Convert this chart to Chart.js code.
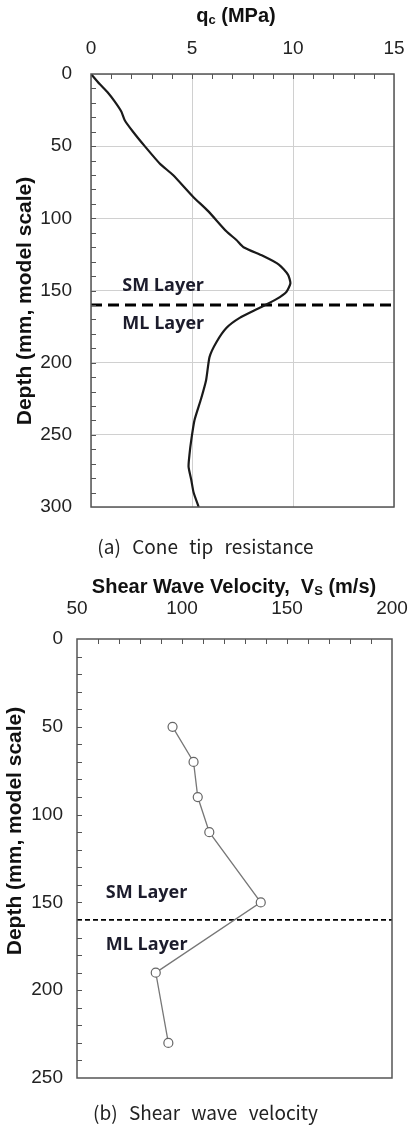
<!DOCTYPE html>
<html lang="en">
<head>
<meta charset="UTF-8">
<title>Cone tip resistance and shear wave velocity</title>
<script src="https://cdn.jsdelivr.net/npm/chart.js@4.4.7/dist/chart.umd.min.js"></script>
<style>
  * { margin: 0; padding: 0; box-sizing: border-box; }
  body { width: 411px; height: 1126px; background: #fff; position: relative; overflow: hidden; }
  .box { position: absolute; left: 0; width: 411px; }
  #boxA { top: 0; height: 530px; }
  #boxB { top: 530px; height: 570px; }
  .cap {
    position: absolute; left: 0; width: 411px; text-align: center;
    font-family: 'Noto Sans CJK KR', sans-serif; font-size: 19px; color: #222;
    word-spacing: 7px; line-height: 20px;
  }
</style>
</head>
<body>
<div class="box" id="boxA"><canvas id="qcChart" width="411" height="530"></canvas></div>
<div class="box" id="boxB"><canvas id="vsChart" width="411" height="570"></canvas></div>
<div class="cap" style="top:536px">(a) Cone tip resistance</div>
<div class="cap" style="top:1102px">(b) Shear wave velocity</div>

<script>
  // (a) コーン貫入抵抗
  const qcDepth  = [0, 7, 13, 19, 26, 32, 40, 50, 62, 70, 85, 95, 109, 115, 120, 126, 132, 139, 145, 151,
                    156, 162, 169, 176, 186, 196, 212, 225, 240, 254, 263, 272, 281, 290, 300];
  const qcValues = [0.0, 0.43, 0.84, 1.17, 1.5, 1.67, 2.08, 2.66, 3.4, 4.06, 5.05, 5.8, 6.7, 7.2, 7.55, 8.5, 9.3, 9.75, 9.87, 9.67,
                    9.18, 8.35, 7.36, 6.7, 6.2, 5.87, 5.7, 5.45, 5.12, 4.96, 4.88, 4.83, 4.96, 5.08, 5.33];

  // (b) せん断波速度
  const vsDepth  = [50, 70, 90, 110, 150, 190, 230];
  const vsValues = [95.5, 105.5, 107.5, 113, 137.5, 87.5, 93.5];

  const layerBoundary = 160;
  const layerLabels = ["SM Layer", "ML Layer"];

  const tickFont = { family: "'Liberation Sans', Arial, sans-serif", size: 19 };
  const boldFont = "bold 20px 'Liberation Sans', Arial, sans-serif";

  // 軸ラベルの余白計算を無効化して描画領域を固定する
  function fixBox(prop, size) {
    return s => {
      s[prop] = size;
      s.paddingLeft = s.paddingRight = s.paddingTop = s.paddingBottom = 0;
    };
  }

  // タイトル（下付き文字対応）を描く
  function drawParts(ctx, parts, cx, cy, rotate) {
    ctx.save();
    ctx.translate(cx, cy);
    if (rotate) ctx.rotate(-Math.PI / 2);
    let total = 0;
    parts.forEach(p => { ctx.font = p.font; total += ctx.measureText(p.t).width; });
    let x = -total / 2;
    ctx.textBaseline = 'middle';
    ctx.fillStyle = '#111';
    parts.forEach(p => {
      ctx.font = p.font;
      ctx.textAlign = 'left';
      ctx.fillText(p.t, x, p.dy || 0);
      x += ctx.measureText(p.t).width;
    });
    ctx.restore();
  }

  const framePlugin = {
    id: 'frame',
    afterDraw(chart, args, o) {
      const { ctx, chartArea: a } = chart;
      const xs = chart.scales.x, ys = chart.scales.y;
      ctx.save();
      // 内向きの副目盛
      ctx.strokeStyle = '#555';
      ctx.lineWidth = 1;
      ctx.beginPath();
      const nx = Math.round((xs.max - xs.min) / o.xMinor);
      for (let i = 1; i < nx; i++) {
        const px = Math.round(xs.getPixelForValue(xs.min + i * o.xMinor)) + 0.5;
        ctx.moveTo(px, a.top); ctx.lineTo(px, a.top + 5);
      }
      const ny = Math.round((ys.max - ys.min) / o.yMinor);
      for (let i = 1; i < ny; i++) {
        const py = Math.round(ys.getPixelForValue(ys.min + i * o.yMinor)) + 0.5;
        ctx.moveTo(a.left, py); ctx.lineTo(a.left + 5, py);
      }
      ctx.stroke();
      // 枠
      ctx.lineWidth = 1.5;
      ctx.strokeStyle = '#555';
      ctx.strokeRect(a.left, a.top, a.right - a.left, a.bottom - a.top);
      // 層ラベル
      ctx.font = "bold 18px 'Open Sans', sans-serif";
      ctx.fillStyle = '#1c1c2c';
      ctx.textAlign = 'left';
      ctx.textBaseline = 'middle';
      o.labels.forEach(l => {
        ctx.fillText(l.text, xs.getPixelForValue(l.x), ys.getPixelForValue(l.y));
      });
      ctx.restore();
      drawParts(ctx, o.xTitle, o.xTitlePos[0], o.xTitlePos[1], false);
      drawParts(ctx, o.yTitle, o.yTitlePos[0], o.yTitlePos[1], true);
    }
  };

  const yTitleParts = [{ t: 'Depth (mm, model scale)', font: "bold 21px 'Liberation Sans', Arial, sans-serif" }];

  // ---- (a) qc ----
  new Chart(document.getElementById('qcChart'), {
    type: 'scatter',
    data: {
      datasets: [
        {
          data: qcDepth.map((d, i) => ({ x: qcValues[i], y: d })),
          showLine: true,
          borderColor: '#1a1a1a',
          borderWidth: 2.2,
          pointRadius: 0,
          tension: 0.2,
        },
        {
          data: [{ x: 0, y: layerBoundary }, { x: 15, y: layerBoundary }],
          showLine: true,
          borderColor: '#000',
          borderWidth: 3,
          borderDash: [11, 6],
          pointRadius: 0,
        },
      ]
    },
    options: {
      responsive: false,
      animation: false,
      layout: { padding: { top: 0, left: 0, right: 17, bottom: 23 } },
      plugins: {
        legend: { display: false },
        tooltip: { enabled: false },
        frame: {
          xMinor: 1, yMinor: 10,
          labels: [
            { text: layerLabels[0], x: 1.55, y: 147 },
            { text: layerLabels[1], x: 1.55, y: 173 },
          ],
          xTitle: [
            { t: 'q', font: boldFont },
            { t: 'c', font: "bold 13px 'Liberation Sans', Arial, sans-serif", dy: 4 },
            { t: ' (MPa)', font: boldFont },
          ],
          xTitlePos: [236, 16],
          yTitle: yTitleParts,
          yTitlePos: [25, 301],
        }
      },
      scales: {
        x: {
          type: 'linear', position: 'top', min: 0, max: 15,
          afterFit: fixBox('height', 74),
          ticks: { stepSize: 5, font: tickFont, color: '#222', padding: 14 },
          grid: { color: '#d0d0d0', drawTicks: false },
          border: { display: false },
        },
        y: {
          type: 'linear', reverse: true, min: 0, max: 300,
          afterFit: fixBox('width', 91),
          ticks: { stepSize: 50, font: tickFont, color: '#222', padding: 19 },
          grid: { color: '#d0d0d0', drawTicks: false },
          border: { display: false },
        }
      }
    },
    plugins: [framePlugin]
  });

  // ---- (b) Vs ----
  new Chart(document.getElementById('vsChart'), {
    type: 'scatter',
    data: {
      datasets: [
        {
          data: vsDepth.map((d, i) => ({ x: vsValues[i], y: d })),
          showLine: true,
          borderColor: '#777',
          borderWidth: 1.3,
          pointRadius: 4.5,
          pointBackgroundColor: '#fff',
          pointBorderColor: '#666',
          pointBorderWidth: 1.2,
        },
        {
          data: [{ x: 50, y: layerBoundary }, { x: 200, y: layerBoundary }],
          showLine: true,
          borderColor: '#000',
          borderWidth: 1.8,
          borderDash: [5, 3],
          pointRadius: 0,
        },
      ]
    },
    options: {
      responsive: false,
      animation: false,
      layout: { padding: { top: 0, left: 0, right: 19, bottom: 22 } },
      plugins: {
        legend: { display: false },
        tooltip: { enabled: false },
        frame: {
          xMinor: 10, yMinor: 10,
          labels: [
            { text: layerLabels[0], x: 63.7, y: 144.6 },
            { text: layerLabels[1], x: 63.7, y: 174 },
          ],
          xTitle: [
            { t: 'Shear Wave Velocity,  V', font: boldFont },
            { t: 'S', font: "bold 13px 'Liberation Sans', Arial, sans-serif", dy: 4 },
            { t: ' (m/s)', font: boldFont },
          ],
          xTitlePos: [234, 57],
          yTitle: yTitleParts,
          yTitlePos: [15, 301],
        }
      },
      scales: {
        x: {
          type: 'linear', position: 'top', min: 50, max: 200,
          afterFit: fixBox('height', 109),
          ticks: { stepSize: 50, font: tickFont, color: '#222', padding: 19 },
          grid: { display: false, drawTicks: false },
          border: { display: false },
        },
        y: {
          type: 'linear', reverse: true, min: 0, max: 250,
          afterFit: fixBox('width', 77),
          ticks: { stepSize: 50, font: tickFont, color: '#222', padding: 14 },
          grid: { display: false, drawTicks: false },
          border: { display: false },
        }
      }
    },
    plugins: [framePlugin]
  });
</script>
</body>
</html>
